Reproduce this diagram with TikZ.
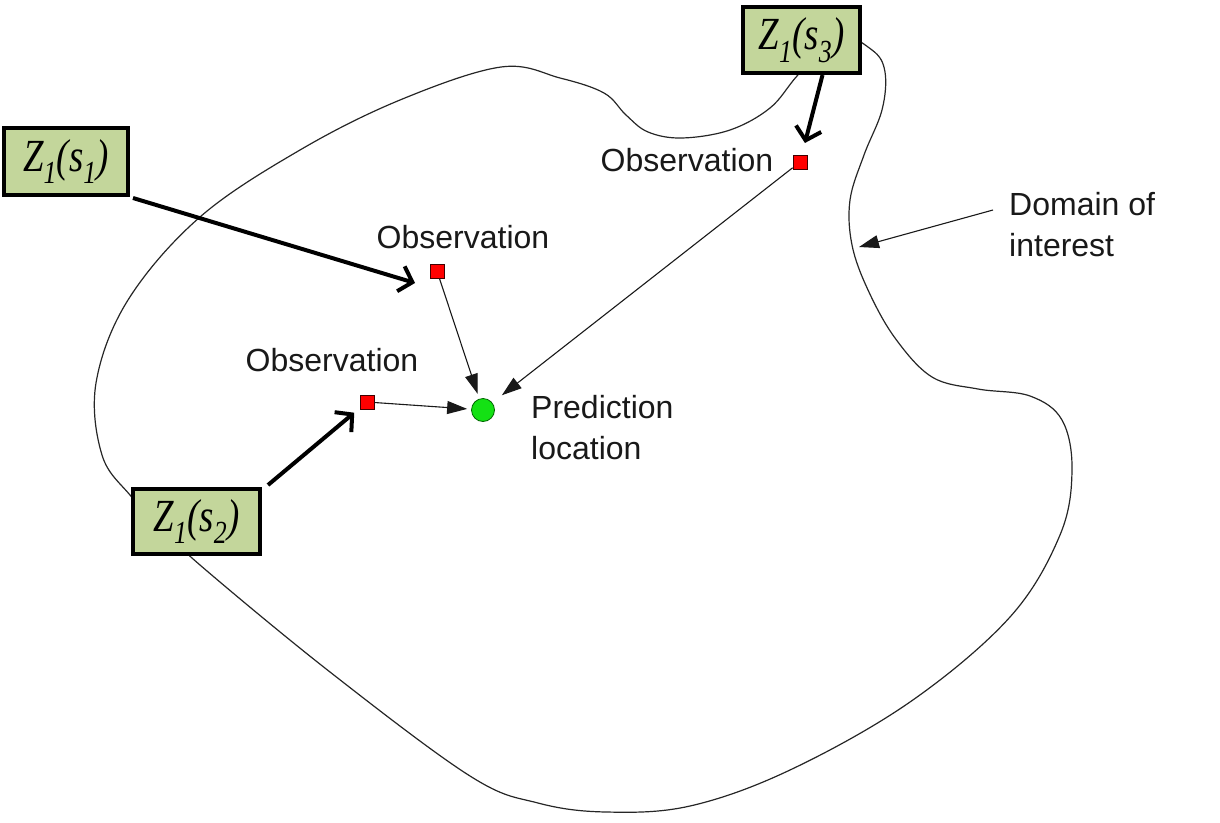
\documentclass[tikz,border=0pt]{standalone}
\usepackage{fontspec}
\setmainfont{Liberation Sans}
\newfontfamily\zfont{Liberation Serif}
\usepackage{graphicx}
\usetikzlibrary{arrows.meta}
\definecolor{zfill}{HTML}{C3D69B}
\definecolor{obsred}{HTML}{FF0000}
\definecolor{predgreen}{RGB}{20,225,20}
\begin{document}
\begin{tikzpicture}[x=1pt,y=-1pt,
  zbox/.style={draw=black, line width=4pt, fill=zfill, minimum width=122pt, minimum height=66pt, inner sep=0pt,
    font=\zfont\itshape\fontsize{46}{50}\selectfont},
  obsbox/.style={draw=black!75!red, fill=obsred, minimum size=14pt, inner sep=0pt, line width=0.8pt},
  predpt/.style={circle, draw=black!60!green, fill=predgreen, minimum size=23pt, inner sep=0pt, line width=0.8pt},
  lbl/.style={inner sep=0pt, font=\fontsize{32}{41}\selectfont, text=black!90},
  thickarrow/.style={line width=4pt, -{Straight Barb[length=12pt,width=26pt]}},
  thinarrow/.style={line width=1.1pt, black!90, -{Triangle[length=20pt,width=13pt]}},
  domline/.style={line width=1.2pt, black!85}]
\useasboundingbox (0,0) rectangle (1220,822);

% domain of interest
\draw[domline] plot[smooth cycle, tension=0.6] coordinates {
  (501,67) (560,78) (604,93) (626,115) (648,132) (682,138) (730,130) (770,108)
  (797,76) (835,35) (872,50) (885,72) (882,110) (864,155) (850,200)
  (852,245) (868,290) (895,338) (932,377) (978,389) (1030,396) (1062,420)
  (1072,470) (1060,535) (1010,617) (910,702) (790,770) (690,806)
  (606,812) (538,803) (470,776) (330,672) (200,565) (165,530)
  (130,495) (102,455) (96,383) (128,300) (200,217) (300,150) (400,100)};

% boxes
\node[zbox, minimum width=124pt, minimum height=67pt] (z1) at (66,161.5) {\scalebox{0.8}[1]{Z\textsubscript{1}(s\textsubscript{1})}};
\node[zbox, minimum width=117pt, minimum height=66pt] (z3) at (801.5,40) {\scalebox{0.8}[1]{Z\textsubscript{1}(s\textsubscript{3})}};
\node[zbox, minimum width=127pt, minimum height=65pt] (z2) at (196.5,521.5) {\scalebox{0.8}[1]{Z\textsubscript{1}(s\textsubscript{2})}};

% observations and prediction
\node[obsbox] (obs1) at (437,271) {};
\node[obsbox] (obs2) at (367,402) {};
\node[obsbox] (obs3) at (800,162) {};
\node[predpt] (pred) at (483,410) {};

% labels
\node[lbl] (lobs1) at (463,237) {Observation};
\node[lbl] (lobs2) at (332,360) {Observation};
\node[lbl] (lobs3) at (687,160) {Observation};
\node[lbl, anchor=north west, align=left] (lpred) at (531,395) {Prediction\\location};
\node[lbl, anchor=north west, align=left] (dom) at (1009,192) {Domain of\\interest};

\coordinate (t1) at (415,283);
\coordinate (dtip) at (859,247);

% thick arrows
\draw[thickarrow] ([xshift=3pt,yshift=-1pt]z1.south east) -- (t1);
\draw[thickarrow, shorten >=7pt] ([xshift=6pt,yshift=2pt]z2.north east) -- (obs2);
\draw[thickarrow, shorten >=12pt] ([xshift=21pt]z3.south) -- (obs3);

% thin arrows
\draw[thinarrow, shorten >=5pt] (obs1) -- (pred);
\draw[thinarrow, shorten >=4pt] (obs2) -- (pred);
\draw[thinarrow, shorten >=12pt] (obs3) -- (pred);
\draw[thinarrow] ([xshift=-16pt,yshift=-18pt]dom.north west) -- (dtip);
\end{tikzpicture}
\end{document}
